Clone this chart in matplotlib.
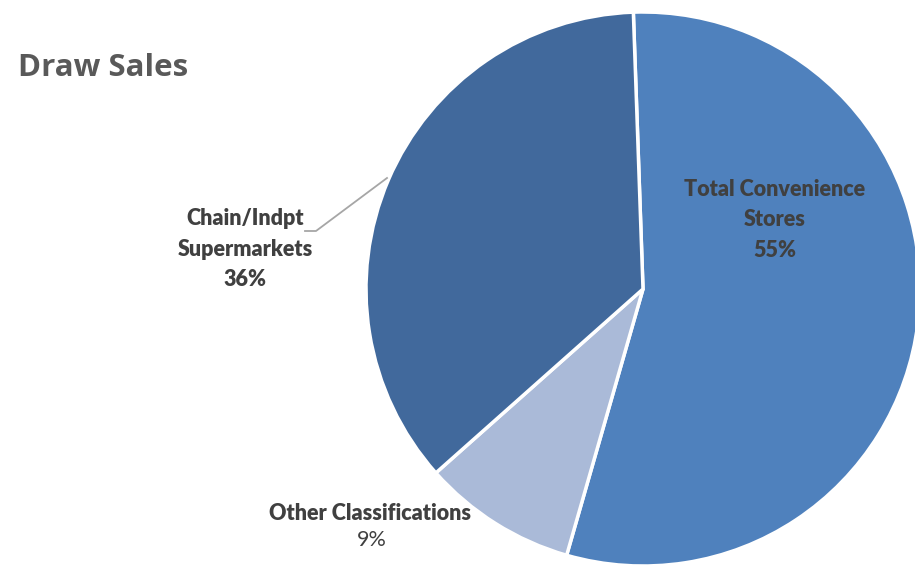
import matplotlib.pyplot as plt

categories = ["Total Convenience Stores", "Other Classifications", "Chain/Indpt Supermarkets"]
shares = [55, 9, 36]
colors = ["#4F81BD", "#AABAD8", "#41699C"]

W, H = 915, 568
plt.rcParams["font.family"] = ["Lato", "DejaVu Sans"]

fig = plt.figure(figsize=(W / 100, H / 100), dpi=100)
ax = fig.add_axes([0, 0, 1, 1])

# work in pixel units, y measured from the top
def py(y):
    return H - y

ax.pie(shares, colors=colors, startangle=92, counterclock=False,
       radius=277, center=(643, py(289)),
       wedgeprops=dict(edgecolor="white", linewidth=2.5))
ax.set_xlim(0, W)
ax.set_ylim(0, H)
ax.set_aspect("equal")
ax.axis("off")

dark = "#404040"
label_size = 15.5

ax.text(18, py(76), "Draw Sales", fontsize=22.5, fontweight="bold",
        family=["Open Sans", "DejaVu Sans"], color="#595959",
        ha="left", va="baseline")

def label(x, baselines, lines, bold=True):
    for y, s in zip(baselines, lines):
        ax.text(x, py(y), s, fontsize=label_size, color=dark,
                fontweight="heavy" if bold else "normal",
                ha="center", va="baseline")

label(775, [196, 226, 257], ["Total Convenience", "Stores", "%d%%" % shares[0]])
label(245, [225, 255.5, 286], ["Chain/Indpt", "Supermarkets", "%d%%" % shares[2]])
label(370, [520.5], ["Other Classifications"])
label(372, [546], ["%d%%" % shares[1]], bold=False)

# leader line for the supermarkets label
ax.plot([305, 316, 387], [py(231), py(231), py(178)], color="#A6A6A6", lw=1.3)

fig.savefig("out.png", dpi=100, facecolor="white")
